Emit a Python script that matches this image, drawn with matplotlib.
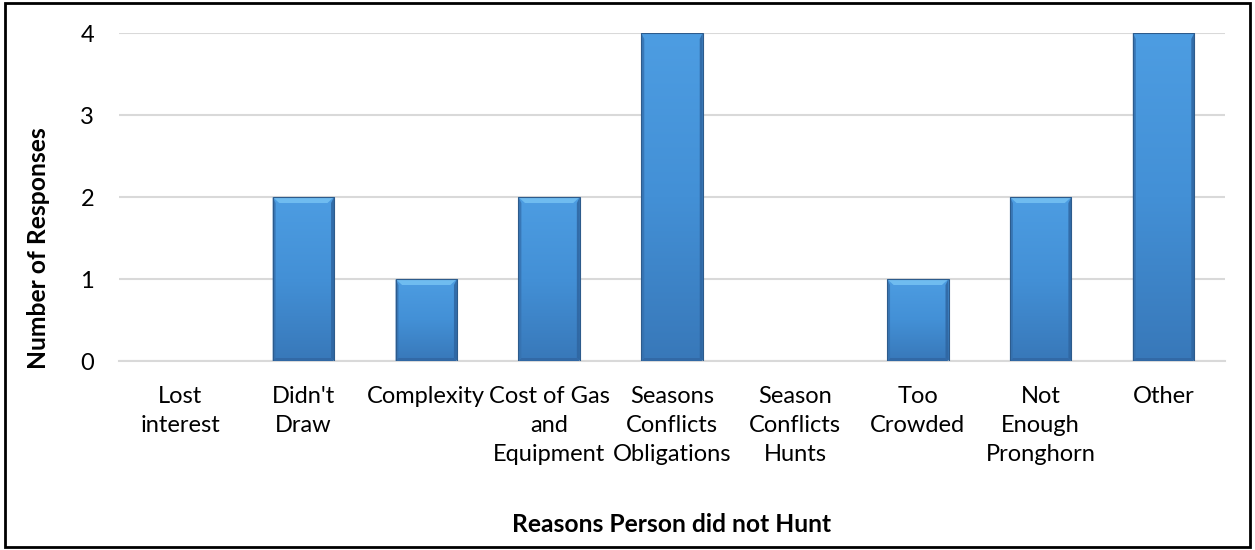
import numpy as np
import matplotlib
matplotlib.use("Agg")
import matplotlib.pyplot as plt
from matplotlib.patches import Rectangle, Polygon
from matplotlib.colors import LinearSegmentedColormap

categories = [
    "Lost\ninterest",
    "Didn't\nDraw",
    "Complexity",
    "Cost of Gas\nand\nEquipment",
    "Seasons\nConflicts\nObligations",
    "Season\nConflicts\nHunts",
    "Too\nCrowded",
    "Not\nEnough\nPronghorn",
    "Other",
]
responses = [0, 2, 1, 2, 4, 0, 1, 2, 4]
y_ticks = [0, 1, 2, 3, 4]
x_title = "Reasons Person did not Hunt"
y_title = "Number of Responses"

plt.rcParams["font.family"] = ["Lato", "DejaVu Sans"]

W, H, DPI = 1255, 550, 100
fig = plt.figure(figsize=(W / DPI, H / DPI), dpi=DPI)
fig.patch.set_facecolor("white")

ax_l, ax_r, ax_t, ax_b = 119, 1225, 33, 361
ax = fig.add_axes([ax_l / W, 1 - ax_b / H, (ax_r - ax_l) / W, (ax_b - ax_t) / H])

n = len(categories)
x = np.arange(n)
ax.set_xlim(-0.5, n - 0.5)
ax.set_ylim(0, 4)

# pixel -> data conversion factors
px_x = (n) / (ax_r - ax_l)
px_y = 4 / (ax_b - ax_t)

bar_w = 0.5
grad = LinearSegmentedColormap.from_list("barfill", ["#3878b9", "#4390d6", "#4d9de2"])
bevel_top = 6 * px_y
bevel_side = 3 * px_x
bevel_bot = 3 * px_y

for xi, v in zip(x, responses):
    if v <= 0:
        continue
    x0, x1 = xi - bar_w / 2, xi + bar_w / 2
    rect = Rectangle((x0, 0), bar_w, v, facecolor="none", edgecolor="none")
    ax.add_patch(rect)
    img = np.linspace(0, 1, 256).reshape(-1, 1)
    im = ax.imshow(img, extent=(x0, x1, 0, v), origin="lower", cmap=grad,
                   aspect="auto", zorder=2, interpolation="bilinear")
    im.set_clip_path(rect)
    # left / right bevel strips
    ax.add_patch(Polygon([(x0, 0), (x0 + bevel_side, bevel_bot), (x0 + bevel_side, v - bevel_top),
                          (x0, v)], closed=True, facecolor="#3672b0", edgecolor="none",
                         alpha=0.85, zorder=3))
    ax.add_patch(Polygon([(x1, 0), (x1 - bevel_side, bevel_bot), (x1 - bevel_side, v - bevel_top),
                          (x1, v)], closed=True, facecolor="#2f65a0", edgecolor="none",
                         alpha=0.85, zorder=3))
    # bottom bevel
    ax.add_patch(Polygon([(x0, 0), (x1, 0), (x1 - bevel_side, bevel_bot), (x0 + bevel_side, bevel_bot)],
                         closed=True, facecolor="#3269a6", edgecolor="none", zorder=3))
    # top bevel (hidden when the bar reaches the top of the plot)
    if v < ax.get_ylim()[1]:
        ax.add_patch(Polygon([(x0, v), (x1, v), (x1 - bevel_side * 2.2, v - bevel_top),
                              (x0 + bevel_side * 2.2, v - bevel_top)],
                             closed=True, facecolor="#6fbcf0", edgecolor="none", zorder=3))
    ax.add_patch(Rectangle((x0, 0), bar_w, v, facecolor="none", edgecolor="#2d5b8c",
                           linewidth=0.8, zorder=4))

ax.set_yticks(y_ticks)
ax.set_yticklabels([str(t) for t in y_ticks])
ax.set_xticks(x)
ax.set_xticklabels(categories, linespacing=1.47)
ax.grid(axis="y", color="#d9d9d9", linewidth=1.5, zorder=0)
ax.set_axisbelow(True)
for s in ["top", "right", "left"]:
    ax.spines[s].set_visible(False)
ax.spines["bottom"].set_color("#d9d9d9")
ax.spines["bottom"].set_linewidth(1.5)
ax.tick_params(axis="both", length=0, labelsize=17, colors="black")
ax.tick_params(axis="y", pad=18)
ax.tick_params(axis="x", pad=18)
for lbl in ax.get_xticklabels():
    lbl.set_verticalalignment("top")

fig.text(672 / W, 1 - 525 / H, x_title, ha="center", va="center",
         fontsize=17.7, fontweight="bold")
fig.text(39 / W, 1 - 248 / H, y_title, ha="center", va="center", rotation=90,
         fontsize=17.7, fontweight="bold")

fig.add_artist(Rectangle((5 / W, 1 - 547 / H), 1245 / W, 544 / H, transform=fig.transFigure,
                         facecolor="none", edgecolor="black", linewidth=2))

fig.savefig("out.png", dpi=DPI)
